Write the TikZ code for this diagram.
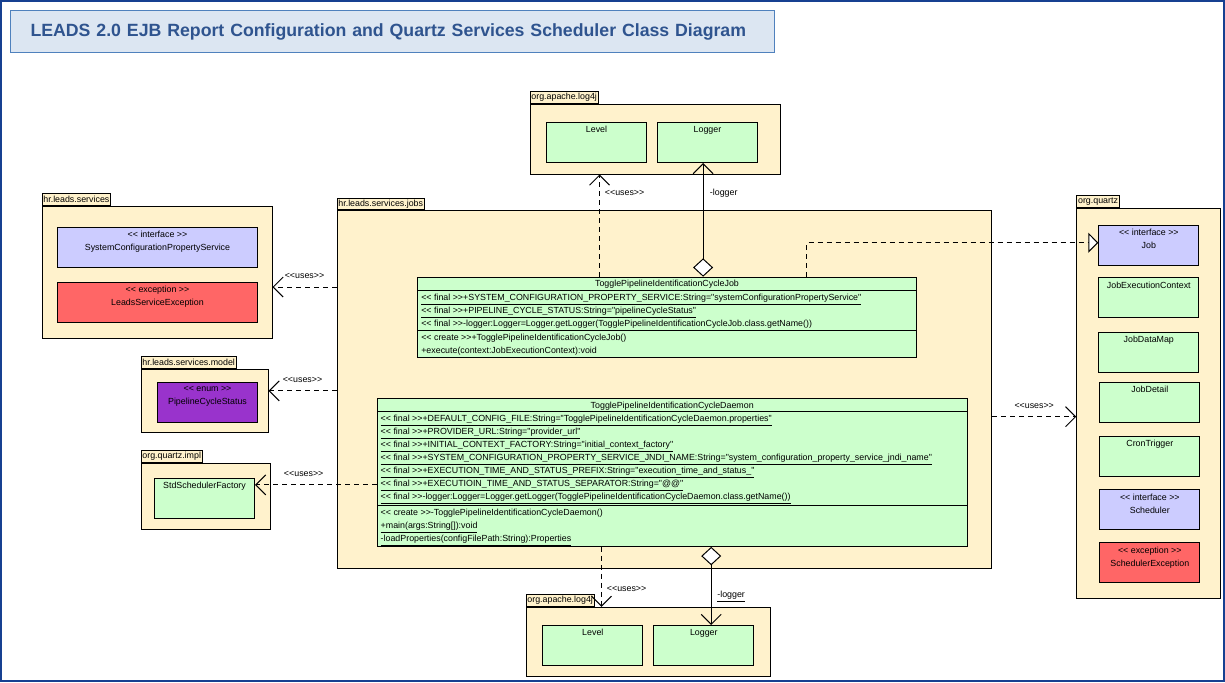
\documentclass[tikz,border=0pt]{standalone}
\usepackage{fontspec}
\setmainfont{Liberation Sans}[Ligatures=TeXOff]
\usetikzlibrary{positioning}
\usetikzlibrary{shapes.multipart}
\usetikzlibrary{arrows.meta}
\usetikzlibrary{fit}

\definecolor{pkgfill}{RGB}{255,242,204}
\definecolor{classfill}{RGB}{204,255,204}
\definecolor{ifacefill}{RGB}{204,204,255}
\definecolor{excfill}{RGB}{255,102,102}
\definecolor{enumfill}{RGB}{153,51,204}
\definecolor{titlefill}{RGB}{220,230,242}
\definecolor{titleline}{RGB}{79,129,189}
\definecolor{titletext}{RGB}{47,84,143}
\definecolor{framecolor}{RGB}{23,64,145}

\newcommand\umlfont{\fontsize{6.3pt}{9.25pt}\selectfont\lineskiplimit=-\maxdimen}
% struts for the compartments of a class
\newcommand\headstrut{\rule[-2.1pt]{0pt}{8.5pt}}
\newcommand\rowstrut{\rule[-2.4pt]{0pt}{9.25pt}}

\tikzset{
    % Package body, and the tab holding its name
    package/.style={draw, fill=pkgfill, line width=0.25mm, inner sep=0pt},
    package tab/.style={draw, fill=pkgfill, line width=0.25mm, font=\umlfont,
        inner xsep=1pt, inner ysep=0pt, minimum height=2.9mm},
%
    % Collapsed class, name written at the top
    class box/.style={draw, fill=#1, line width=0.25mm, inner sep=0pt,
        minimum width=25mm, minimum height=10mm, anchor=north west},
    class box/.default=classfill,
    class name/.style={anchor=north, align=center, font=\umlfont, inner sep=1mm},
%
    % Full class with name, attributes and operations
    uml class/.style={
        rectangle split, rectangle split parts=3, draw, fill=classfill,
        line width=0.25mm, rectangle split part align={center,left,left},
        align=left, font=\umlfont, inner xsep=2.5pt, inner ysep=0pt,
        anchor=north west},
%
    % Dependencies and associations
    uses/.style={line width=0.25mm, dash pattern=on 1.25mm off 1mm,
        -{Straight Barb[length=2.5mm, width=5mm]}},
    realize/.style={line width=0.25mm, dash pattern=on 1.25mm off 1mm,
        -{Triangle[fill=white, length=2.5mm, width=5mm]}},
    assoc/.style={line width=0.25mm,
        {Diamond[fill=white, length=4.6mm, width=5mm]}-{Straight Barb[length=2.5mm, width=5mm]}},
    use label/.style={font=\umlfont, inner sep=1.5pt},
%
    title box/.style={draw=titleline, fill=titlefill, line width=0.25mm,
        text width=181mm, inner xsep=5mm, minimum height=10.5mm,
        font=\fontsize{12.6pt}{15pt}\selectfont\bfseries, text=titletext}}

\begin{document}
\begin{tikzpicture}[x=0.25mm, y=-0.25mm]

\useasboundingbox (0,0) rectangle (1225,682);
\draw [framecolor, line width=0.5mm] (1,1) rectangle (1224,681);

\node [title box, anchor=north west] (title) at (10,10)
    {LEADS 2.0 EJB Report Configuration and Quartz Services Scheduler Class Diagram};

% Packages

\node [package, fit={(42,206) (272,338)}] (services) {};
\node [package tab, above right=0pt of services.north west] (servicesTab) {hr.leads.services};

\node [package, fit={(141,369) (268,432)}] (model) {};
\node [package tab, above right=0pt of model.north west] (modelTab) {hr.leads.services.model};

\node [package, fit={(141,463) (270,529.5)}] (impl) {};
\node [package tab, above right=0pt of impl.north west] (implTab) {org.quartz.impl};

\node [package, fit={(530,104) (780,174)}] (log4jTop) {};
\node [package tab, above right=0pt of log4jTop.north west] (log4jTopTab) {org.apache.log4j};

\node [package, fit={(526,607.3) (770,676.7)}] (log4jBot) {};
\node [package tab, above right=0pt of log4jBot.north west] (log4jBotTab) {org.apache.log4j};

\node [package, fit={(337,210.7) (991.7,568.3)}] (jobs) {};
\node [package tab, above right=0pt of jobs.north west] (jobsTab) {hr.leads.services.jobs};

\node [package, fit={(1076.7,208.3) (1220.7,598.3)}] (quartz) {};
\node [package tab, above right=0pt of quartz.north west] (quartzTab) {org.quartz};

% Classes of the other packages

\node [class box=ifacefill, minimum width=50mm,
    label={[class name]north:{<< interface >>\\SystemConfigurationPropertyService}}]
    (svcIface) at (57,227) {};
\node [class box=excfill, minimum width=50mm,
    label={[class name]north:{<< exception >>\\LeadsServiceException}}]
    (svcExc) at (57,282) {};

\node [class box=enumfill, label={[class name]north:{<< enum >>\\PipelineCycleStatus}}]
    (cycleStatus) at (157,382) {};

\node [class box, label={[class name]north:StdSchedulerFactory}] (stdFactory) at (154,478) {};

\node [class box, label={[class name]north:Level}] (level) at (546,122) {};
\node [class box, label={[class name]north:Logger}] (logger) at (657,122) {};

\node [class box, label={[class name]north:Level}] (levelB) at (542.3,625) {};
\node [class box, label={[class name]north:Logger}] (loggerB) at (653.3,625) {};

\node [class box=ifacefill, label={[class name]north:{<< interface >>\\Job}}]
    (jobIface) at (1098.3,225) {};
\node [class box, label={[class name]north:JobExecutionContext}] (jobCtx) at (1098.3,277.3) {};
\node [class box, label={[class name]north:JobDataMap}] (jobDataMap) at (1098.3,331.7) {};
\node [class box, label={[class name]north:JobDetail}] (jobDetail) at (1099.3,381.7) {};
\node [class box, label={[class name]north:CronTrigger}] (cronTrigger) at (1099.3,436) {};
\node [class box=ifacefill, label={[class name]north:{<< interface >>\\Scheduler}}]
    (scheduler) at (1099.3,489.3) {};
\node [class box=excfill, label={[class name]north:{<< exception >>\\SchedulerException}}]
    (schedExc) at (1099.3,542.3) {};

% The two job classes

\node [uml class, minimum width=124.6mm] (job) at (417.3,276.7)
    {
        \headstrut TogglePipelineIdentificationCycleJob
    \nodepart{two}
        \rowstrut\underline{<< final >>+SYSTEM\_CONFIGURATION\_PROPERTY\_SERVICE:String="systemConfigurationPropertyService"}\\
        \rowstrut\underline{<< final >>+PIPELINE\_CYCLE\_STATUS:String="pipelineCycleStatus"}\\
        \rowstrut<< final >>-logger:Logger=Logger.getLogger(TogglePipelineIdentificationCycleJob.class.getName())
    \nodepart{three}
        \rowstrut<< create >>+TogglePipelineIdentificationCycleJob()\\
        \rowstrut+execute(context:JobExecutionContext):void
    };

\node [uml class, minimum width=147.5mm] (daemon) at (376.7,398.3)
    {
        \headstrut TogglePipelineIdentificationCycleDaemon
    \nodepart{two}
        \rowstrut\underline{<< final >>+DEFAULT\_CONFIG\_FILE:String="TogglePipelineIdentificationCycleDaemon.properties"}\\
        \rowstrut\underline{<< final >>+PROVIDER\_URL:String="provider\_url"}\\
        \rowstrut\underline{<< final >>+INITIAL\_CONTEXT\_FACTORY:String="initial\_context\_factory"}\\
        \rowstrut\underline{<< final >>+SYSTEM\_CONFIGURATION\_PROPERTY\_SERVICE\_JNDI\_NAME:String="system\_configuration\_property\_service\_jndi\_name"}\\
        \rowstrut\underline{<< final >>+EXECUTION\_TIME\_AND\_STATUS\_PREFIX:String="execution\_time\_and\_status\_"}\\
        \rowstrut\underline{<< final >>+EXECUTIOIN\_TIME\_AND\_STATUS\_SEPARATOR:String="@@"}\\
        \rowstrut\underline{<< final >>-logger:Logger=Logger.getLogger(TogglePipelineIdentificationCycleDaemon.class.getName())}
    \nodepart{three}
        \rowstrut<< create >>-TogglePipelineIdentificationCycleDaemon()\\
        \rowstrut\underline{+main(args:String[]):void}\\
        \rowstrut\underline{-loadProperties(configFilePath:String):Properties}
    };

% Connectors

\coordinate (svcEnd) at ([yshift=-3.75mm]services.east);
\draw [uses] (jobs.west |- svcEnd) -- (svcEnd)
    node [use label, midway, above=4pt] {<<uses>>};

\coordinate (modelEnd) at ([yshift=2.4mm]model.east);
\draw [uses] (jobs.west |- modelEnd) -- (modelEnd)
    node [use label, midway, above=4pt] {<<uses>>};

\coordinate (implEnd) at ([yshift=3.4mm]stdFactory.east);
\draw [uses] (daemon.west |- implEnd) -- (implEnd)
    node [use label, pos=0.6, above=4pt] {<<uses>>};

\coordinate (quartzEnd) at ([yshift=-3.35mm]quartz.west);
\draw [uses] (jobs.east |- quartzEnd) -- (quartzEnd)
    node [use label, midway, above=4pt] {<<uses>>};

\coordinate (logUse) at ([xshift=17.5mm]log4jTop.south west);
\draw [uses] (job.north -| logUse) -- (logUse)
    node [use label, pos=0.815, right=2pt] {<<uses>>};

\coordinate (logAssoc) at ([xshift=-1.1mm]logger.south);
\draw [assoc] (job.north -| logAssoc) -- (logAssoc)
    node [use label, pos=0.73, right=3pt] {-logger};

\draw [realize] ([xshift=-27.5mm]job.north east) |- ([yshift=0.7mm]jobIface.west);

\coordinate (logUseB) at ([xshift=19mm]log4jBot.north west);
\draw [uses] (daemon.south -| logUseB) -- (logUseB)
    node [use label, pos=0.7, right=2pt] {<<uses>>};

\coordinate (logAssocB) at ([xshift=1.85mm]loggerB.north);
\draw [assoc] (daemon.south -| logAssocB) -- (logAssocB)
    node [use label, pos=0.64, right=2.5pt] {\underline{-logger}};

\end{tikzpicture}
\end{document}
